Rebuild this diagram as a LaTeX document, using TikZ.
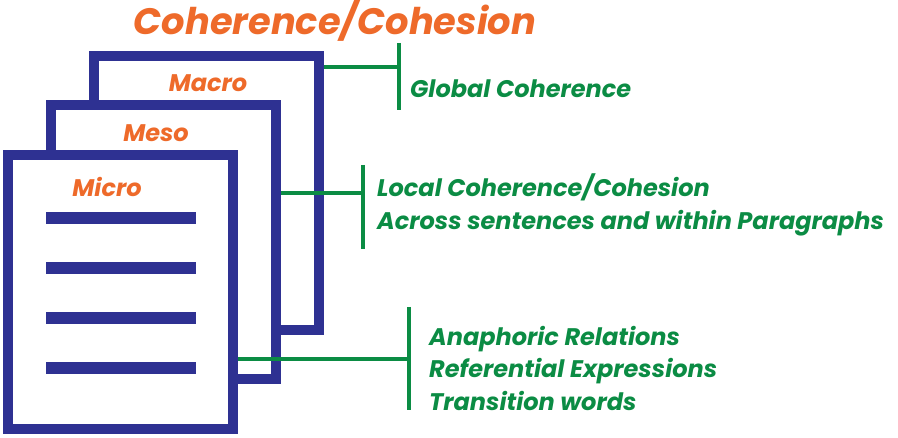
\documentclass[tikz,border=0pt]{standalone}
\usepackage{fontspec}
\setmainfont{Poppins}
\definecolor{pblue}{HTML}{2E3192}
\definecolor{porange}{HTML}{EE6A2A}
\definecolor{pgreen}{HTML}{0B8C44}
\begin{document}
\begin{tikzpicture}[x=1pt,y=-1pt,
  page/.style={draw=pblue, fill=white, line width=10pt, rectangle, inner sep=0pt,
               minimum width=225pt, minimum height=274pt},
  level/.style={text=porange, font=\fontsize{24}{28}\selectfont\bfseries\itshape, inner sep=0pt},
  txtline/.style={draw=pblue, line width=12pt},
  conn/.style={draw=pgreen, line width=4pt},
  gtext/.style={text=pgreen, font=\fontsize{24}{32.5}\selectfont\bfseries\itshape,
                align=left, anchor=west, inner sep=0pt}]
\useasboundingbox (0,0) rectangle (898,438);
\node[text=porange, font=\fontsize{36.8}{40}\selectfont\bfseries\itshape, inner sep=0pt] (title) at (335,20) {Coherence/Cohesion};
\node[page] (macro) at (206,193.25) {};
\node[page] (meso) at (163.25,242) {};
\node[page] (micro) at (120.5,292) {};
\node[level] (lmacro) at (208,83) {Macro};
\node[level] (lmeso) at (156,133) {Meso};
\node[level] (lmicro) at (107,187) {Micro};
\foreach \y in {218,268,318,368} \draw[txtline] (46,\y) -- (196,\y);
% brackets
\coordinate (g1) at (399,67);
\coordinate (g1t) at (399,43);
\coordinate (g1b) at (399,110);
\coordinate (g2) at (363,193);
\coordinate (g2t) at (363,165);
\coordinate (g2b) at (363,249);
\coordinate (g3) at (409,359);
\coordinate (g3t) at (409,307);
\coordinate (g3b) at (409,410);
\draw[conn] (g1t) -- (g1b);
\draw[conn] (g2t) -- (g2b);
\draw[conn] (g3t) -- (g3b);
\draw[conn] (macro.east |- g1) -- (g1);
\draw[conn] (meso.east |- g2) -- (g2);
\draw[conn] (micro.east |- g3) -- (g3);
\node[gtext] (t1) at (410,89) {Global Coherence};
\node[gtext] (t2) at (377,205) {Local Coherence/Cohesion\\Across sentences and within Paragraphs};
\node[gtext] (t3) at (429,368) {Anaphoric Relations\\Referential Expressions\\Transition words};
\end{tikzpicture}
\end{document}
